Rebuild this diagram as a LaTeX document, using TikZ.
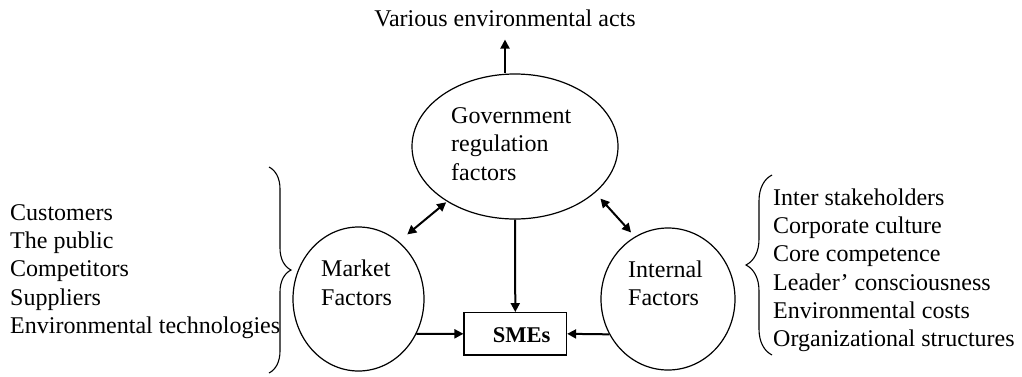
\documentclass[tikz,border=0pt]{standalone}
\usepackage{fontspec}
\setmainfont{Liberation Serif}
\usetikzlibrary{shapes.geometric,arrows.meta,decorations.pathreplacing}
\begin{document}
\begin{tikzpicture}[x=1pt,y=-1pt,
  txt/.style={inner sep=0pt,anchor=base west,font=\fontsize{24}{28}\selectfont},
  oval/.style={ellipse,draw,line width=1.2pt,inner sep=0pt},
  tip/.tip={Triangle[length=9pt,width=9pt]},
  arr/.style={line width=2pt,-tip},
  dbl/.style={line width=2pt,tip-tip},
  brc/.style={decorate,line width=1.1pt}]
\useasboundingbox (0,0) rectangle (1022,376);
\fill[white] (0,0) rectangle (1022,376);

% ovals and box
\node[oval,minimum width=206pt,minimum height=145pt] (gov) at (515,146.5) {};
\node[oval,minimum width=131pt,minimum height=144pt] (mkt) at (358.5,299) {};
\node[oval,minimum width=134pt,minimum height=142pt] (int) at (668,299) {};
\node[draw,line width=1.2pt,minimum width=102.5pt,minimum height=42.3pt,inner sep=0pt] (box) at (515.3,333.8) {};

% labels inside shapes
\node[txt] (g1) at (451,123) {Government};
\node[txt] (g2) at (451,151.5) {regulation};
\node[txt] (g3) at (451,180) {factors};
\node[txt] (m1) at (321,276) {Market};
\node[txt] (m2) at (321,305) {Factors};
\node[txt] (i1) at (628,277) {Internal};
\node[txt] (i2) at (628,305) {Factors};
\node[txt,font=\fontsize{22.5}{27}\selectfont\bfseries] (smes) at (492.7,342.3) {SMEs};

% title
\node[txt,anchor=base] (title) at (505,26) {Various environmental acts};

% left list
\node[txt] (l1) at (10,220) {Customers};
\node[txt] (l2) at (10,248.3) {The public};
\node[txt] (l3) at (10,276.6) {Competitors};
\node[txt] (l4) at (10,305) {Suppliers};
\node[txt] (l5) at (10,333.3) {Environmental technologies};

% right list
\node[txt] (r1) at (773,205) {Inter stakeholders};
\node[txt] (r2) at (773,233.3) {Corporate culture};
\node[txt] (r3) at (773,261.7) {Core competence};
\node[txt] (r4) at (773,290) {Leader’ consciousness};
\node[txt] (r5) at (773,318.3) {Environmental costs};
\node[txt] (r6) at (773,346.7) {Organizational structures};

% braces
\coordinate (lb1) at (269,167);
\coordinate (lb2) at (269,373);
\draw[brc,decoration={brace,amplitude=22pt}] (lb1) -- (lb2);
\coordinate (rb1) at (772,355);
\coordinate (rb2) at (772,175);
\draw[brc,decoration={brace,amplitude=26pt}] (rb1) -- (rb2);

% connectors
\draw[arr] (title.south |- gov.north) -- ([yshift=-13pt]title.south);
\draw[arr] (gov.south) -- (box.north);
\draw[dbl,shorten >=11pt,shorten <=1pt] (gov.219.7) -- (mkt.55);
\draw[dbl,shorten >=5.6pt,shorten <=7.8pt] (gov.330.3) -- (int.118.7);
\draw[arr] (mkt.-31.5) -- (box.west);
\draw[arr] (int.211) -- (box.east);
\end{tikzpicture}
\end{document}
